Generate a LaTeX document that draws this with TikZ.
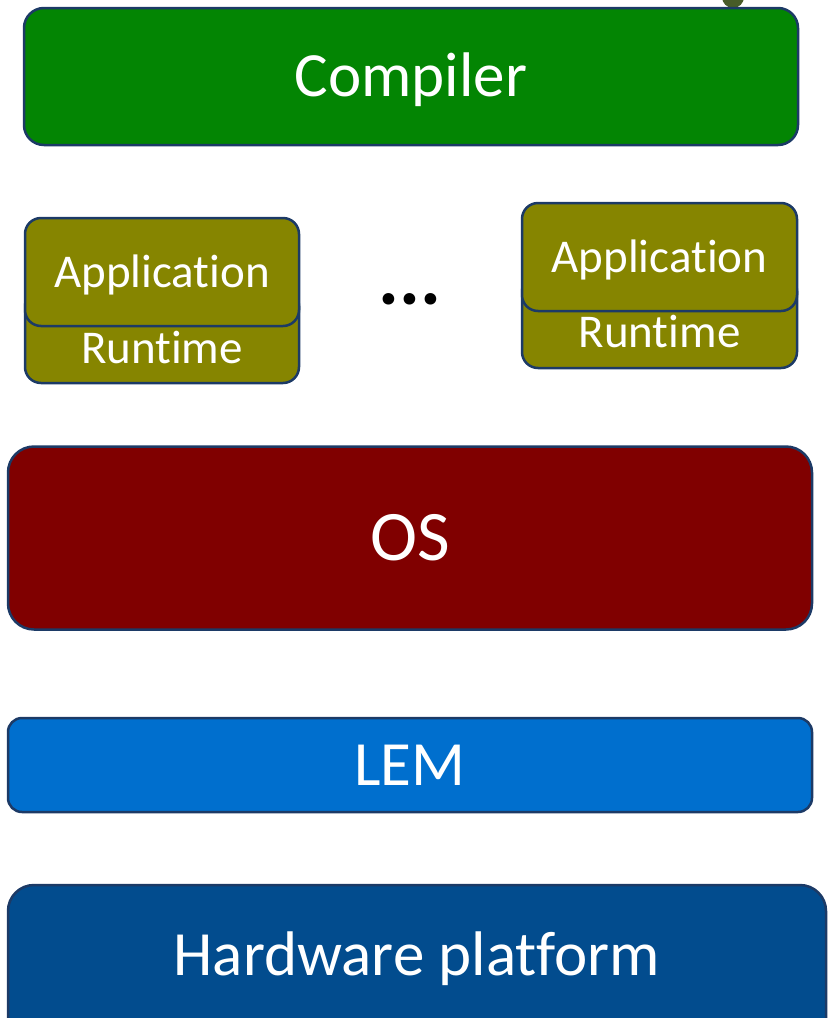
\documentclass[tikz,border=0pt]{standalone}
\usepackage{fontspec}
\setmainfont[Ligatures={NoCommon}]{Carlito}
\definecolor{bordernavy}{RGB}{28,58,102}
\definecolor{compgreen}{RGB}{3,133,3}
\definecolor{appolive}{RGB}{134,133,0}
\definecolor{osred}{RGB}{128,0,0}
\definecolor{lemblue}{RGB}{0,111,206}
\definecolor{hwblue}{RGB}{2,76,142}
\definecolor{knob}{RGB}{72,92,40}
\begin{document}
\begin{tikzpicture}[x=1pt,y=-1pt,
  layer/.style={draw=bordernavy, line width=2.5pt, rounded corners=20pt, text=white,
    inner sep=0pt, font=\fontsize{63}{70}\selectfont, text height=40pt, text depth=0pt},
  appbox/.style={layer, rounded corners=16pt, font=\fontsize{47}{52}\selectfont, text height=30pt},
  lbl/.style={text=white, inner sep=0pt, font=\fontsize{47}{52}\selectfont, anchor=base}]
\useasboundingbox (0,0) rectangle (828,1018);
\fill[knob] (733,-3) circle (11);
\node[layer, fill=compgreen, minimum width=774pt, minimum height=137pt] (compiler) at (411,76.5) {Compiler};
% left stack
\node[appbox, fill=appolive, minimum width=274pt, minimum height=93pt] (rtL) at (162,336.5) {};
\node[lbl] (rtLt) at (162,363) {Runtime};
\node[appbox, fill=appolive, minimum width=274pt, minimum height=108pt] (appL) at (162,272) {Application};
% right stack
\node[appbox, fill=appolive, minimum width=275pt, minimum height=93pt] (rtR) at (659.5,321.5) {};
\node[lbl] (rtRt) at (659.5,347) {Runtime};
\node[appbox, fill=appolive, minimum width=275pt, minimum height=108pt] (appR) at (659.5,257) {Application};
% dots
\node[inner sep=0pt, font=\fontsize{78}{84}\selectfont\bfseries, anchor=base] (dots) at (410,304) {...};
\node[layer, fill=osred, rounded corners=26pt, minimum width=804pt, minimum height=183pt,
  font=\fontsize{71}{78}\selectfont, text height=45pt] (os) at (410,538) {OS};
\node[layer, fill=lemblue, rounded corners=14pt, minimum width=804pt, minimum height=94pt] (lem) at (410,765) {LEM};
\node[layer, fill=hwblue, rounded corners=26pt, minimum width=818pt, minimum height=180pt, text height=0pt] (hw) at (417,975) {};
\node[anchor=base, text=white, inner sep=0pt, font=\fontsize{63}{70}\selectfont] (hwt) at (417,975) {Hardware platform};
\end{tikzpicture}
\end{document}
